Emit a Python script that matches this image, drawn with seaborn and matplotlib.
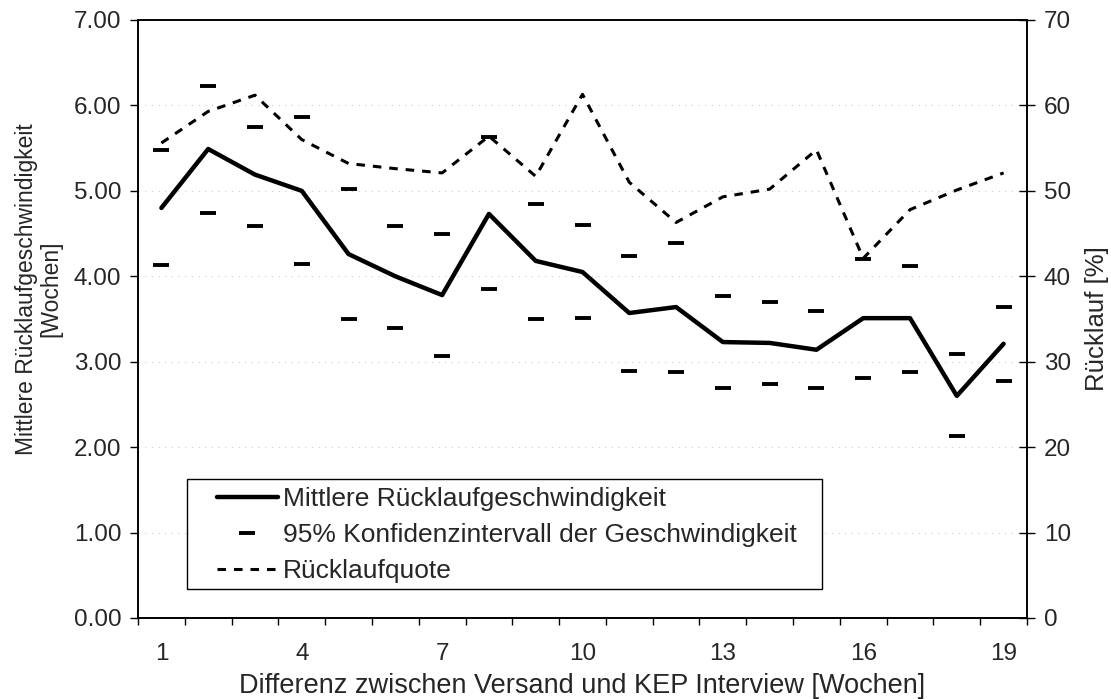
import numpy as np
import pandas as pd
import matplotlib
matplotlib.use('Agg')
import matplotlib.pyplot as plt
import seaborn as sns
from matplotlib.lines import Line2D
from matplotlib.patches import Rectangle

# data
weeks = list(range(1, 20))
mean_speed = [4.80, 5.49, 5.19, 5.00, 4.26, 4.00, 3.78, 4.73, 4.18, 4.05,
              3.57, 3.64, 3.23, 3.22, 3.14, 3.51, 3.51, 2.60, 3.21]
ci_upper = [5.48, 6.23, 5.75, 5.86, 5.02, 4.59, 4.49, 5.63, 4.85, 4.60,
            4.24, 4.39, 3.77, 3.70, 3.59, 4.20, 4.12, 3.09, 3.64]
ci_lower = [4.13, 4.74, 4.59, 4.14, 3.50, 3.40, 3.07, 3.85, 3.50, 3.51,
            2.89, 2.88, 2.69, 2.74, 2.69, 2.81, 2.88, 2.13, 2.77]
quote = [55.6, 59.3, 61.2, 56.0, 53.2, 52.6, 52.1, 56.4, 51.7, 61.3,
         51.0, 46.3, 49.3, 50.2, 54.8, 42.1, 47.8, 50.1, 52.1]

xtick_labels = [1, 4, 7, 10, 13, 16, 19]

df = pd.DataFrame({'woche': weeks, 'mean': mean_speed, 'quote': quote})
ci_df = pd.DataFrame({'woche': weeks * 2, 'ci': ci_upper + ci_lower})

sns.set_style('white')
plt.rcParams['font.family'] = ['Liberation Sans', 'DejaVu Sans']
fs = 17.5

fig = plt.figure(figsize=(11.11, 6.99), dpi=100)
ax = fig.add_axes([138 / 1111, 1 - 618 / 699, 889 / 1111, 598 / 699])
ax2 = ax.twinx()

# left axis: speed + CI
sns.lineplot(data=df, x='woche', y='mean', ax=ax, color='black', linewidth=3.2)
sns.scatterplot(data=ci_df, x='woche', y='ci', ax=ax, marker='_', s=130,
                linewidth=2.8, color='black')

# right axis: return rate
sns.lineplot(data=df, x='woche', y='quote', ax=ax2, color='black',
             linewidth=2.2, dashes=False)
ax2.lines[-1].set_dashes((2.8, 2.6))

ax.set_xlim(0.5, 19.5)
ax.set_ylim(0, 7)
ax2.set_ylim(0, 70)

ax.set_yticks(np.arange(0, 8, 1))
ax.set_yticklabels([f'{v:.2f}' for v in range(8)], fontsize=fs)
ax2.set_yticks(np.arange(0, 80, 10))
ax2.set_yticklabels([str(v) for v in range(0, 80, 10)], fontsize=fs)

ax.set_xticks(xtick_labels)
ax.set_xticklabels([str(v) for v in xtick_labels], fontsize=fs)
ax.set_xticks(np.arange(0.5, 20, 1), minor=True)
ax.tick_params(axis='x', which='major', length=0, pad=18)
ax.tick_params(axis='x', which='minor', length=5, width=1, direction='out', color='black', bottom=True)
ax.tick_params(axis='y', which='major', length=6, width=1, direction='out', color='black', left=True, pad=6)
ax2.tick_params(axis='y', which='major', length=12, width=1, direction='inout', color='black', right=True, pad=6)

ax.yaxis.grid(True, color='#cccccc', linestyle=(0, (1, 5)), linewidth=0.8)
ax.set_axisbelow(True)

for a in (ax, ax2):
    for s in a.spines.values():
        s.set_visible(True)
        s.set_color('black')
        s.set_linewidth(1.2)

ax.set_xlabel('Differenz zwischen Versand und KEP Interview [Wochen]', fontsize=19.5, labelpad=6)
ax.set_ylabel('Mittlere Rücklaufgeschwindigkeit\n[Wochen]', fontsize=16.5, linespacing=1.1)
ax.yaxis.set_label_coords(-0.085, 0.55)
ax2.set_ylabel('Rücklauf [%]', fontsize=fs + 1, labelpad=10)

# legend frame drawn as a plain box, legend entries placed inside it
box = Rectangle((0.0551, 0.0485), 0.7143, 0.1839, transform=ax2.transAxes,
                facecolor='white', edgecolor='black', linewidth=1.0, zorder=5)
ax2.add_patch(box)

handles = [
    Line2D([], [], color='black', linewidth=3.2),
    Line2D([], [], color='black', linestyle='none', marker='_', markersize=11, markeredgewidth=2.8),
    Line2D([], [], color='black', linewidth=2.2, dashes=(2.8, 2.6)),
]
labels = ['Mittlere Rücklaufgeschwindigkeit',
          '95% Konfidenzintervall der Geschwindigkeit',
          'Rücklaufquote']
leg = ax2.legend(handles, labels, loc='upper left', bbox_to_anchor=(0.0889, 0.219),
                 borderaxespad=0, borderpad=0, fontsize=19, frameon=False,
                 handlelength=2.3, handletextpad=0.2, labelspacing=0.45)
leg.set_zorder(6)

fig.savefig('out.png', dpi=100)
